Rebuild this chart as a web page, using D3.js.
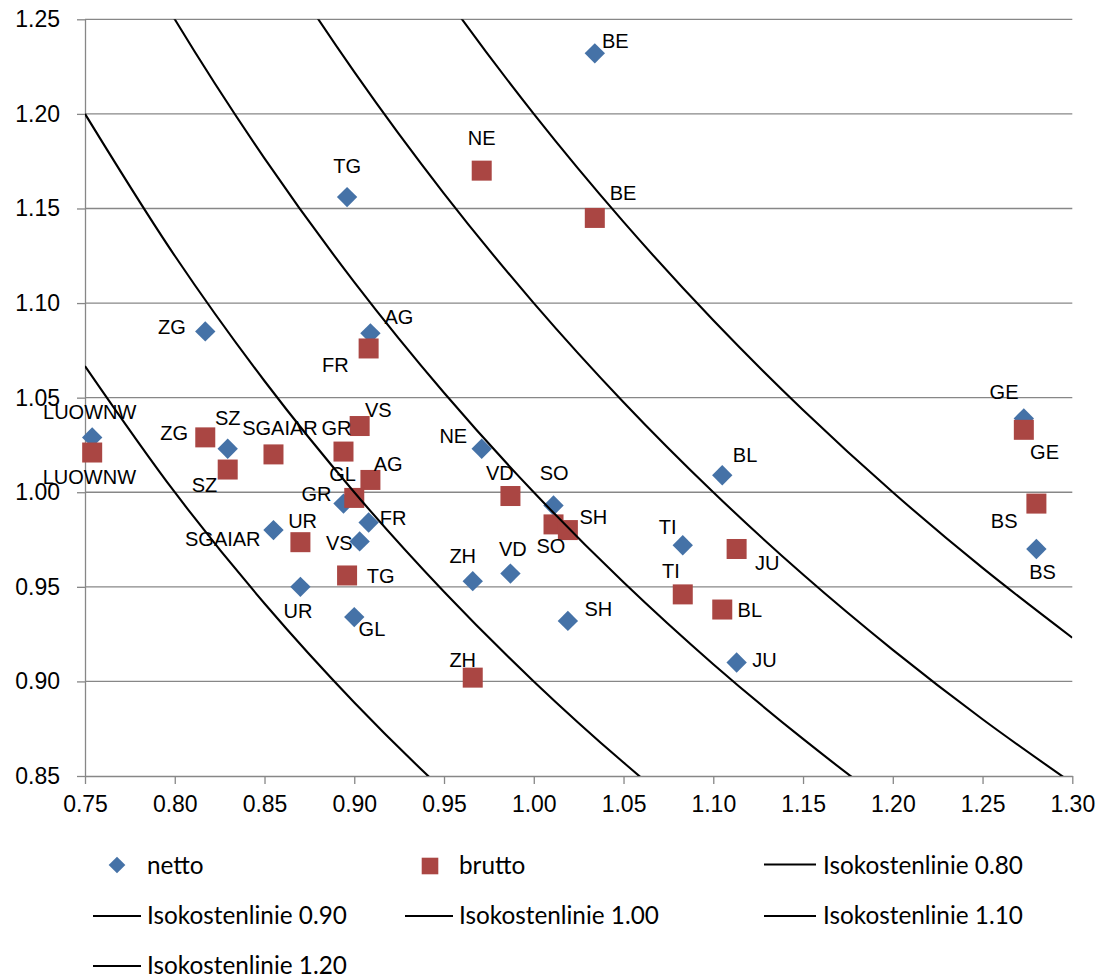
<!DOCTYPE html>
<html>
<head>
<meta charset="utf-8">
<script src="https://cdn.jsdelivr.net/npm/d3@7"></script>
<style>
  html, body { margin: 0; padding: 0; background: #fff; }
  svg { display: block; }
</style>
</head>
<body>
<svg id="chart" width="1106" height="975"></svg>
<script>
// ---------------- DATA ----------------
const cantons = ["BE","TG","ZG","AG","LUOWNW","SZ","NE","BL","GE","SO","GR","FR","SGAIAR","VS","TI","ZH","VD","BS","UR","GL","SH","JU"];
const xValues = [1.034,0.896,0.817,0.909,0.754,0.8295,0.971,1.105,1.273,1.011,0.894,0.908,0.855,0.903,1.083,0.966,0.987,1.280,0.870,0.900,1.019,1.113];
const nettoValues = [1.232,1.156,1.085,1.084,1.029,1.023,1.023,1.009,1.039,0.993,0.994,0.984,0.980,0.974,0.972,0.953,0.957,0.970,0.950,0.934,0.932,0.910];
const bruttoValues = [1.145,0.956,1.029,1.0065,1.021,1.012,1.170,0.938,1.033,0.983,1.0215,1.076,1.020,1.035,0.946,0.902,0.998,0.994,0.9736,0.997,0.980,0.970];

const xTicks = [0.75,0.80,0.85,0.90,0.95,1.00,1.05,1.10,1.15,1.20,1.25,1.30];
const yTicks = [0.85,0.90,0.95,1.00,1.05,1.10,1.15,1.20,1.25];

const isoLabels = ["Isokostenlinie 0.80","Isokostenlinie 0.90","Isokostenlinie 1.00","Isokostenlinie 1.10","Isokostenlinie 1.20"];
const isoX = [0.75,0.80,0.85,0.90,0.95,1.00,1.05,1.10,1.15,1.20,1.25,1.30];
const iso080 = [1.0667,1.0000,0.9412,0.8889,0.8421,0.8000,0.7619,0.7273,0.6957,0.6667,0.6400,0.6154];
const iso090 = [1.2000,1.1250,1.0588,1.0000,0.9474,0.9000,0.8571,0.8182,0.7826,0.7500,0.7200,0.6923];
const iso100 = [1.3333,1.2500,1.1765,1.1111,1.0526,1.0000,0.9524,0.9091,0.8696,0.8333,0.8000,0.7692];
const iso110 = [1.4667,1.3750,1.2941,1.2222,1.1579,1.1000,1.0476,1.0000,0.9565,0.9167,0.8800,0.8462];
const iso120 = [1.6000,1.5000,1.4118,1.3333,1.2632,1.2000,1.1429,1.0909,1.0435,1.0000,0.9600,0.9231];
const isoSeries = [iso080, iso090, iso100, iso110, iso120];

// ---------------- STYLE / LAYOUT ----------------
const NETTO_COLOR = "#4572A7";
const BRUTTO_COLOR = "#AA4643";
const GRID_COLOR = "#878787";
const plot = { left: 85, right: 1072.3, top: 19.3, bottom: 776 };

// label offsets (px) of label center from marker center
const nettoLabelOffset = {
  BE:[20.5,-12.5], TG:[0,-31.4], ZG:[-33.3,-5], AG:[28.5,-16.5], LUOWNW:[-2.5,-25.4], SZ:[0,-30.5],
  NE:[-28.4,-12.5], BL:[22.8,-20.2], GE:[-19.8,-26.8], SO:[0.6,-32.5], GR:[-27,-9.5], FR:[24.4,-4.8],
  SGAIAR:[-50.7,9.2], VS:[-20.3,1], TI:[-15.2,-18.2], ZH:[-10,-25], VD:[2.5,-25.1], BS:[6.1,22.5],
  UR:[-2.5,24.2], GL:[17.7,11.6], SH:[30.5,-12.5], JU:[27.8,-2.5]
};
const bruttoLabelOffset = {
  BE:[28.2,-25.2], TG:[33.5,0.8], ZG:[-31.2,-4.1], AG:[17.8,-15.8], LUOWNW:[-2.8,23.9], SZ:[-23.3,15.8],
  NE:[0,-32.5], BL:[27.6,0], GE:[20.7,22], SO:[-2.6,21.8], GR:[-7,-24], FR:[-33.3,16.5],
  SGAIAR:[6.5,-26.5], VS:[18.7,-15.9], TI:[-11.9,-23.5], ZH:[-10,-18.1], VD:[-10.5,-23.2], BS:[-32.2,16.8],
  UR:[2.2,-21.5], GL:[-11.6,-24], SH:[25.5,-13], JU:[30.7,13.5]
};

const svg = d3.select("#chart");

const x = d3.scaleLinear().domain([0.75, 1.30]).range([plot.left, plot.right]);
const y = d3.scaleLinear().domain([0.85, 1.25]).range([plot.bottom, plot.top]);

// gridlines
svg.append("g")
  .selectAll("line")
  .data(yTicks.filter(v => v !== 0.85))
  .join("line")
  .attr("x1", plot.left).attr("x2", plot.right)
  .attr("y1", d => y(d)).attr("y2", d => y(d))
  .attr("stroke", GRID_COLOR).attr("stroke-width", 1.3);

// axes
const fmt = d3.format(".2f");
const xAxis = svg.append("g")
  .attr("transform", `translate(0,${plot.bottom})`)
  .call(d3.axisBottom(x).tickValues(xTicks).tickFormat(fmt).tickSize(8).tickPadding(12).tickSizeOuter(0));
const yAxis = svg.append("g")
  .attr("transform", `translate(${plot.left},0)`)
  .call(d3.axisLeft(y).tickValues(yTicks).tickFormat(fmt).tickSize(8).tickPadding(17).tickSizeOuter(0));

[xAxis, yAxis].forEach(g => {
  g.select(".domain").attr("stroke", GRID_COLOR).attr("stroke-width", 1.3);
  g.selectAll(".tick line").attr("stroke", GRID_COLOR).attr("stroke-width", 1.3);
  g.selectAll(".tick text")
    .attr("fill", "#000")
    .style("font-family", "'Liberation Sans', Arial, sans-serif")
    .style("font-size", "23px");
});

// clip
svg.append("defs").append("clipPath").attr("id", "plotclip")
  .append("rect")
  .attr("x", plot.left).attr("y", plot.top)
  .attr("width", plot.right - plot.left).attr("height", plot.bottom - plot.top);

const diamond = d3.symbol().type(d3.symbolSquare);

// netto markers (diamonds)
svg.append("g").selectAll("rect")
  .data(cantons.map((c, i) => ({ c, x: xValues[i], y: nettoValues[i] })))
  .join("rect")
  .attr("x", -7.2).attr("y", -7.2).attr("width", 14.4).attr("height", 14.4)
  .attr("transform", d => `translate(${x(d.x)},${y(d.y)}) rotate(45)`)
  .attr("fill", NETTO_COLOR);

// brutto markers (squares)
svg.append("g").selectAll("rect")
  .data(cantons.map((c, i) => ({ c, x: xValues[i], y: bruttoValues[i] })))
  .join("rect")
  .attr("x", d => x(d.x) - 10).attr("y", d => y(d.y) - 10)
  .attr("width", 20).attr("height", 20)
  .attr("fill", BRUTTO_COLOR);

// iso-cost lines
const line = d3.line().x(d => x(d[0])).y(d => y(d[1])).curve(d3.curveCatmullRom.alpha(0.5));
svg.append("g").attr("clip-path", "url(#plotclip)")
  .selectAll("path")
  .data(isoSeries.map(arr => arr.map((v, i) => [isoX[i], v])))
  .join("path")
  .attr("d", line)
  .attr("fill", "none")
  .attr("stroke", "#000")
  .attr("stroke-width", 2.1);

// data labels
const capHalf = 0.716 * 20 / 2;
function addLabels(values, offsets) {
  svg.append("g").selectAll("text")
    .data(cantons.map((c, i) => ({ c, x: xValues[i], y: values[i] })))
    .join("text")
    .attr("x", d => x(d.x) + offsets[d.c][0])
    .attr("y", d => y(d.y) + offsets[d.c][1] + capHalf)
    .attr("text-anchor", "middle")
    .style("font-family", "'Liberation Sans', Arial, sans-serif")
    .style("font-size", "20px")
    .attr("fill", "#000")
    .text(d => d.c);
}
addLabels(nettoValues, nettoLabelOffset);
addLabels(bruttoValues, bruttoLabelOffset);

// legend
const legendFont = "Lato, 'Open Sans', sans-serif";
const lg = svg.append("g");
// measure to set font size so that "Isokostenlinie 0.80" ~ 200px
const probe = lg.append("text").style("font-family", legendFont).style("font-size", "26px").text(isoLabels[0]);
const w26 = probe.node().getComputedTextLength();
probe.remove();
const legendSize = Math.max(18, Math.min(30, 26 * 200 / (w26 || 200)));

const legendItems = [
  { type: "diamond", label: "netto", mx: 117, tx: 147, yb: 874.3, ym: 865 },
  { type: "square", label: "brutto", mx: 430, tx: 459, yb: 874.3, ym: 866 },
  { type: "line", label: isoLabels[0], x1: 764, x2: 816, tx: 823, yb: 874.3, ym: 864.5 },
  { type: "line", label: isoLabels[1], x1: 93, x2: 141, tx: 147, yb: 924.3, ym: 916 },
  { type: "line", label: isoLabels[2], x1: 405, x2: 453, tx: 459, yb: 924.3, ym: 916 },
  { type: "line", label: isoLabels[3], x1: 764, x2: 816, tx: 823, yb: 924.3, ym: 916 },
  { type: "line", label: isoLabels[4], x1: 93, x2: 141, tx: 147, yb: 974.3, ym: 966 }
];
legendItems.forEach(it => {
  if (it.type === "diamond") {
    lg.append("rect").attr("x", -5.9).attr("y", -5.9).attr("width", 11.8).attr("height", 11.8)
      .attr("transform", `translate(${it.mx},${it.ym}) rotate(45)`).attr("fill", NETTO_COLOR);
  } else if (it.type === "square") {
    lg.append("rect").attr("x", it.mx - 8.3).attr("y", it.ym - 8.3).attr("width", 16.6).attr("height", 16.6)
      .attr("fill", BRUTTO_COLOR);
  } else {
    lg.append("line").attr("x1", it.x1).attr("x2", it.x2).attr("y1", it.ym).attr("y2", it.ym)
      .attr("stroke", "#000").attr("stroke-width", 2.1);
  }
  lg.append("text").attr("x", it.tx).attr("y", it.yb)
    .style("font-family", legendFont).style("font-size", legendSize + "px")
    .attr("fill", "#000").text(it.label);
});
</script>
</body>
</html>
